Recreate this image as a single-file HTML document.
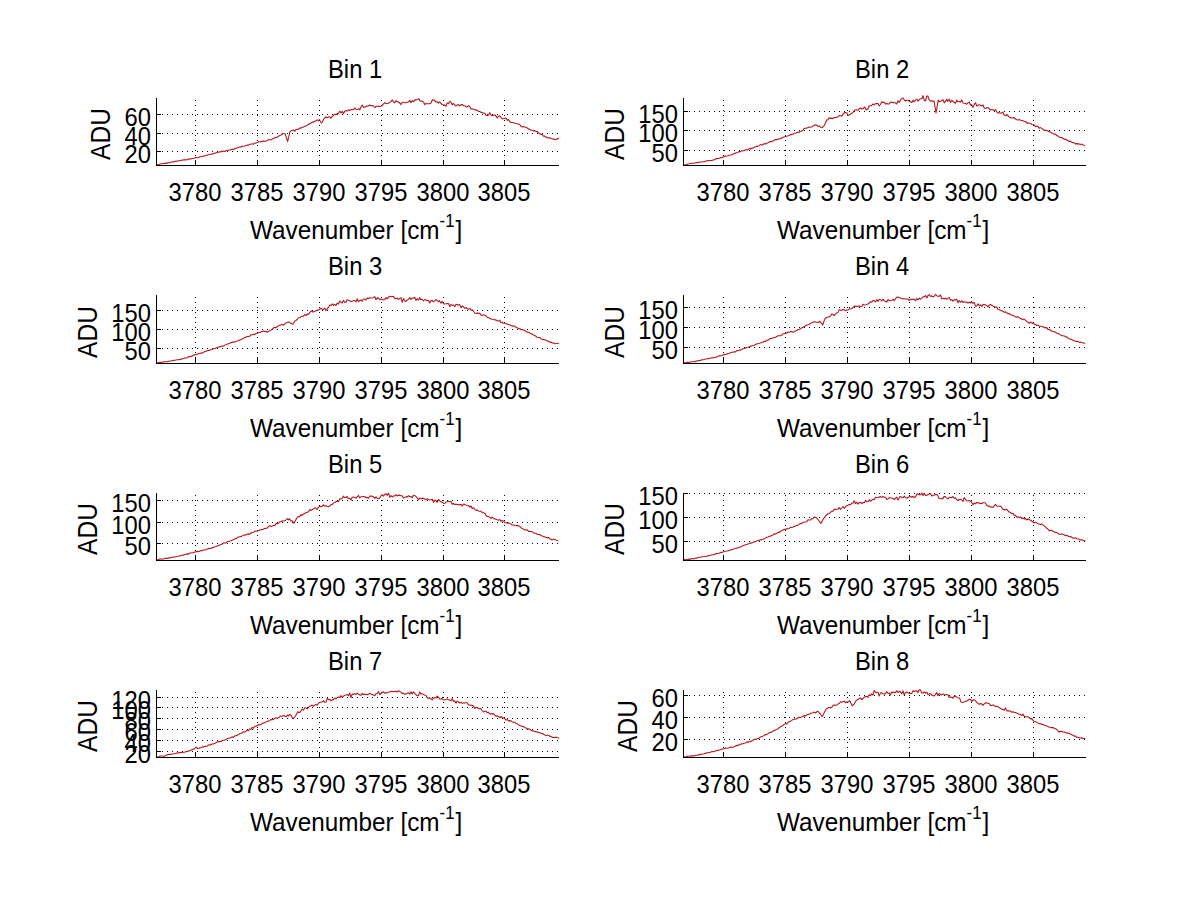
<!DOCTYPE html>
<html><head><meta charset="utf-8"><style>
html,body{margin:0;padding:0;background:#fff;width:1200px;height:901px;overflow:hidden}
svg{position:absolute;left:0;top:0}
.g{stroke:#000;stroke-width:1;stroke-dasharray:1 4}
.a{stroke:#000;stroke-width:1}
.c{fill:none;stroke:#b01822;stroke-width:1.1;stroke-linejoin:round}
.t{position:absolute;font-family:"Liberation Sans", sans-serif;font-size:25px;line-height:25px;white-space:nowrap;color:#000}
.xt{text-align:center;transform:scaleX(0.95)}
.yt{text-align:right;transform-origin:100% 0;transform:scaleX(0.95)}
.xl{font-size:26px;line-height:26px;transform-origin:0 0;transform:scaleX(0.935)}
.sup{font-size:18px;position:relative;top:-12px;margin-left:0px;margin-right:1px}
.ti{font-size:26px;line-height:26px;transform-origin:0 0;transform:scaleX(0.915)}
.yl{font-size:27px;line-height:27px;transform-origin:0 0;transform:rotate(-90deg) scaleX(0.91)}
</style></head><body>
<svg width="1200" height="901" viewBox="0 0 1200 901">
<line class="g" x1="195.5" y1="100" x2="195.5" y2="165"/>
<line class="g" x1="257.5" y1="100" x2="257.5" y2="165"/>
<line class="g" x1="319.5" y1="100" x2="319.5" y2="165"/>
<line class="g" x1="381.5" y1="100" x2="381.5" y2="165"/>
<line class="g" x1="443.5" y1="100" x2="443.5" y2="165"/>
<line class="g" x1="504.5" y1="100" x2="504.5" y2="165"/>
<line class="g" x1="157" y1="114.5" x2="558.5" y2="114.5"/>
<line class="g" x1="157" y1="133.5" x2="558.5" y2="133.5"/>
<line class="g" x1="157" y1="151.5" x2="558.5" y2="151.5"/>
<polyline class="c" points="156.0,165.0 157.2,164.7 158.5,164.9 159.8,164.2 161.0,163.7 162.2,163.8 163.5,163.5 164.8,163.4 166.0,162.9 167.2,163.1 168.5,162.7 169.8,162.8 171.0,162.2 172.7,161.7 173.5,161.9 174.8,161.6 176.0,161.0 177.2,161.2 178.5,160.7 179.8,160.8 181.0,160.3 182.2,160.3 183.5,159.8 184.8,159.9 186.0,159.9 187.2,159.7 188.5,159.1 189.8,158.7 191.0,159.0 192.2,158.5 193.5,158.3 194.3,158.3 196.0,157.6 197.2,157.7 198.5,157.5 199.8,156.9 201.0,156.4 202.2,156.3 203.5,156.3 204.8,155.7 206.0,155.7 207.2,155.1 208.5,154.8 209.8,154.5 211.0,154.2 212.2,153.9 213.5,153.7 214.3,153.3 216.0,152.9 217.2,152.4 218.5,152.2 219.8,151.9 221.0,151.4 222.2,151.6 223.5,151.1 224.8,151.5 226.0,150.6 227.2,150.2 228.5,150.3 229.8,150.0 231.0,149.7 232.2,149.4 233.5,149.5 234.8,148.5 236.0,148.4 237.2,147.8 238.5,147.5 239.8,146.8 241.0,147.1 242.2,146.1 243.5,146.3 244.8,146.0 246.0,145.6 247.7,145.0 248.5,145.1 249.8,144.3 251.0,144.3 252.2,143.8 253.5,144.2 254.8,143.1 256.0,142.9 257.7,142.5 258.5,141.8 259.8,141.8 261.0,141.6 262.2,141.4 263.5,140.9 264.8,141.3 266.0,141.1 267.2,140.5 268.5,139.8 269.8,139.7 271.0,139.9 272.7,138.7 273.5,138.6 274.8,137.6 276.0,137.7 277.2,137.0 278.5,136.2 279.8,135.5 281.0,135.0 282.2,134.0 283.5,133.7 285.2,133.7 286.0,136.3 287.7,141.5 288.5,138.0 290.0,131.7 291.0,130.8 292.2,130.8 293.5,130.0 294.8,131.2 296.0,129.6 297.7,129.2 298.5,129.3 299.8,128.0 301.0,128.1 302.2,127.4 303.5,127.0 304.8,126.3 306.0,126.0 307.2,125.5 308.5,124.1 309.3,124.2 311.0,123.0 312.2,122.1 313.5,122.1 314.8,121.2 316.0,120.7 317.2,119.9 318.5,120.7 319.3,119.7 321.3,123.0 322.2,122.4 323.5,119.5 324.3,118.3 326.0,117.0 327.2,117.7 328.5,116.9 329.8,116.8 331.0,118.2 332.2,116.6 333.5,115.4 334.8,114.2 336.0,114.7 337.2,113.6 338.5,113.2 339.8,111.2 341.0,112.9 342.2,111.3 343.5,113.8 344.8,111.1 346.0,110.8 347.2,111.0 348.5,109.8 349.8,110.5 351.0,109.8 352.2,109.6 353.5,109.8 354.8,107.8 356.0,109.5 357.2,109.7 358.5,108.6 359.8,109.8 361.0,107.0 362.2,105.1 363.5,107.5 364.5,106.9 366.0,106.6 367.2,105.9 368.5,106.0 369.8,105.0 371.0,105.8 373.0,105.5 374.8,107.5 376.0,106.3 377.2,106.2 378.5,106.0 379.8,106.5 381.5,106.0 383.5,103.9 384.8,102.5 386.0,103.6 387.2,103.5 388.5,103.3 390.0,102.1 391.0,101.7 392.2,99.9 393.5,101.8 394.8,102.7 396.0,100.7 397.2,101.6 398.5,102.0 400.2,103.5 401.0,104.6 402.2,102.2 403.5,102.2 404.8,102.7 406.0,102.6 407.2,102.3 408.7,101.8 409.8,100.3 411.0,102.7 412.2,100.7 413.5,101.6 414.8,99.9 416.0,99.9 417.2,99.5 418.9,98.7 419.8,100.8 421.0,101.2 422.2,101.0 423.5,102.1 424.8,104.7 425.7,103.5 427.2,103.8 428.5,103.7 429.8,103.8 431.0,103.1 432.2,99.9 434.2,100.1 436.0,102.0 437.2,101.7 438.5,103.2 439.8,101.9 441.0,103.5 442.2,104.5 443.5,105.1 444.4,104.9 446.0,106.4 447.2,102.9 448.5,103.7 449.8,101.3 451.2,102.7 452.2,104.8 453.5,103.5 454.8,104.9 456.0,106.2 458.0,104.4 459.8,106.0 461.0,104.6 462.2,104.5 463.5,105.8 464.8,105.7 466.5,107.2 468.5,105.8 469.8,106.4 471.0,108.9 472.2,108.8 473.5,109.3 475.0,110.0 476.0,109.9 477.2,110.1 478.5,111.4 479.8,111.5 481.0,112.4 482.2,112.5 483.5,113.1 485.2,113.7 486.0,115.5 487.2,115.7 488.5,115.1 489.8,112.7 491.0,115.0 492.2,115.8 493.5,115.2 495.4,115.1 497.2,117.9 498.5,116.3 499.8,115.8 501.0,117.4 502.2,118.8 503.9,118.8 504.8,118.3 506.0,118.1 507.2,120.3 508.5,119.5 509.8,121.8 511.0,122.5 512.2,122.5 514.1,123.0 516.0,123.5 517.2,123.7 518.5,124.0 519.8,124.5 521.0,126.4 522.2,127.0 523.5,126.4 524.8,127.1 526.0,127.3 527.2,127.9 528.5,129.1 529.8,129.4 531.0,129.9 532.2,130.3 533.5,130.9 534.8,130.6 536.2,131.6 537.2,131.4 538.5,133.0 539.8,133.8 541.0,134.6 542.2,134.3 543.5,136.2 544.8,136.0 546.4,137.5 547.2,137.6 548.5,138.0 549.8,137.7 551.0,138.7 552.2,138.8 553.5,139.1 554.9,139.5 556.0,139.5 557.2,138.9 559.0,138.4"/>
<line class="a" x1="156.5" y1="98" x2="156.5" y2="166"/>
<line class="a" x1="156" y1="165.5" x2="559" y2="165.5"/>
<line class="a" x1="195.5" y1="160" x2="195.5" y2="165"/>
<line class="a" x1="257.5" y1="160" x2="257.5" y2="165"/>
<line class="a" x1="319.5" y1="160" x2="319.5" y2="165"/>
<line class="a" x1="381.5" y1="160" x2="381.5" y2="165"/>
<line class="a" x1="443.5" y1="160" x2="443.5" y2="165"/>
<line class="a" x1="504.5" y1="160" x2="504.5" y2="165"/>
<line class="a" x1="157" y1="114.5" x2="161" y2="114.5"/>
<line class="a" x1="157" y1="133.5" x2="161" y2="133.5"/>
<line class="a" x1="157" y1="151.5" x2="161" y2="151.5"/>
<line class="g" x1="723.5" y1="100" x2="723.5" y2="165"/>
<line class="g" x1="785.5" y1="100" x2="785.5" y2="165"/>
<line class="g" x1="847.5" y1="100" x2="847.5" y2="165"/>
<line class="g" x1="909.5" y1="100" x2="909.5" y2="165"/>
<line class="g" x1="971.5" y1="100" x2="971.5" y2="165"/>
<line class="g" x1="1033.5" y1="100" x2="1033.5" y2="165"/>
<line class="g" x1="684" y1="111.5" x2="1085.5" y2="111.5"/>
<line class="g" x1="684" y1="130.5" x2="1085.5" y2="130.5"/>
<line class="g" x1="684" y1="150.5" x2="1085.5" y2="150.5"/>
<polyline class="c" points="683.0,165.0 684.2,165.0 685.5,164.7 686.8,164.6 688.0,164.0 689.2,163.8 690.5,163.5 691.8,163.3 693.0,163.3 694.2,163.2 695.5,162.7 696.8,162.5 698.0,162.7 699.2,162.1 700.5,162.0 701.8,162.0 703.0,161.7 704.2,161.8 705.5,161.2 706.8,160.8 708.0,160.6 709.2,160.7 710.5,160.5 711.8,160.5 713.0,160.0 714.2,159.9 715.5,159.0 716.8,158.6 718.0,158.5 719.2,158.2 720.5,157.6 721.8,157.7 723.0,157.0 724.2,156.6 725.5,156.1 726.8,156.0 728.0,155.7 729.2,155.2 730.5,155.0 731.8,154.8 733.0,154.2 734.2,153.6 735.5,153.1 736.8,152.8 738.0,152.3 739.2,151.6 740.5,151.8 741.8,150.9 743.0,150.8 744.2,150.6 745.5,149.8 746.8,149.9 748.0,149.7 749.2,148.8 750.5,148.4 751.8,148.6 753.0,148.0 754.2,147.2 755.5,146.8 756.8,146.3 758.0,146.4 759.2,145.6 760.5,144.6 761.8,145.1 763.0,144.2 764.2,143.7 765.5,143.9 766.8,143.2 768.0,142.7 769.2,141.9 770.5,141.6 771.8,141.7 773.0,140.8 774.2,140.3 775.5,139.4 776.8,139.7 778.0,139.1 779.2,139.0 780.5,138.4 781.8,138.1 783.0,137.3 784.7,136.7 786.8,136.2 788.0,135.8 789.2,135.4 790.5,134.5 791.8,134.6 793.0,134.0 794.2,133.2 796.3,133.0 798.0,132.0 799.2,132.4 800.5,131.2 801.8,131.0 803.0,130.2 804.2,128.4 806.3,128.3 808.0,127.5 809.2,127.0 810.5,127.2 811.8,126.7 813.0,126.2 814.2,125.1 816.3,125.0 818.0,126.3 819.2,125.9 820.5,127.2 822.2,127.5 824.2,125.6 825.5,122.6 826.8,119.9 828.0,119.7 829.2,117.6 830.5,118.5 831.8,118.1 833.0,118.7 834.2,117.5 836.3,117.5 838.0,116.7 839.2,115.5 840.5,115.7 841.8,116.1 843.0,114.1 844.7,112.5 846.8,112.8 848.0,115.5 849.7,114.7 851.8,113.2 853.0,112.4 854.7,110.0 856.8,109.9 858.0,110.3 859.2,108.7 860.5,108.0 861.8,109.1 863.0,108.5 864.7,107.0 866.3,110.0 868.0,108.7 869.2,105.8 871.3,105.8 873.0,104.0 874.2,104.9 875.5,103.6 876.8,103.5 878.0,103.6 879.2,106.0 880.5,104.5 881.8,101.6 883.0,102.5 884.2,102.2 885.5,104.1 886.8,103.4 888.0,104.1 889.2,103.8 890.5,102.2 891.8,102.0 893.2,102.7 894.2,102.6 895.5,103.1 896.8,104.0 898.0,100.8 899.2,102.4 900.5,100.0 901.7,98.7 903.0,98.0 904.2,99.8 905.5,101.0 906.8,100.3 908.0,100.2 909.2,101.5 910.2,101.8 911.8,102.5 913.0,100.2 914.2,101.8 915.5,100.0 916.8,99.3 918.0,101.2 919.2,99.7 920.4,98.7 921.8,98.8 923.0,95.7 924.2,100.2 925.5,101.0 926.8,96.0 928.0,96.1 928.9,99.3 930.5,101.1 931.8,100.7 933.0,101.4 934.0,101.0 936.0,112.9 938.3,100.1 939.2,101.8 940.5,101.3 941.8,100.5 943.0,99.8 944.2,102.9 945.5,101.1 946.8,99.2 947.6,101.5 949.2,99.2 950.5,102.5 951.8,100.2 953.0,101.6 954.2,102.2 955.5,103.2 956.8,100.0 957.8,101.8 959.2,101.5 960.5,102.1 961.8,99.9 963.0,102.9 964.2,103.3 965.5,103.6 966.8,104.2 968.0,102.9 969.2,102.1 970.5,104.9 971.4,104.4 973.0,107.4 974.2,104.5 975.5,102.8 976.8,106.1 978.0,105.3 979.2,104.8 980.5,105.3 981.6,106.0 983.0,104.9 984.2,108.0 985.5,108.6 986.8,107.8 988.0,107.5 989.2,108.9 990.5,110.1 991.8,109.5 993.0,109.7 994.2,110.7 995.5,109.6 996.8,111.9 998.0,113.0 999.2,112.7 1000.5,113.3 1002.0,112.9 1003.0,112.3 1004.2,115.3 1005.5,115.7 1006.8,114.5 1008.0,115.7 1009.2,117.2 1010.5,117.6 1012.2,118.0 1014.2,117.6 1015.5,119.1 1016.8,119.8 1018.0,120.0 1019.2,119.5 1020.5,120.3 1022.4,120.5 1024.2,121.3 1025.5,121.6 1026.8,123.2 1028.0,122.9 1029.2,123.2 1030.5,123.3 1031.8,124.4 1032.6,124.8 1034.2,124.9 1035.5,126.7 1036.8,125.9 1038.0,126.6 1039.2,128.2 1040.5,127.6 1041.8,128.4 1042.8,129.0 1044.2,130.3 1045.5,130.4 1046.8,130.4 1048.0,131.0 1049.2,131.9 1050.5,131.9 1051.8,133.1 1053.0,133.3 1054.2,134.3 1055.5,134.1 1056.8,135.8 1058.0,135.8 1059.2,137.1 1060.5,137.3 1061.8,137.6 1063.2,138.4 1064.2,139.5 1065.5,139.1 1066.8,140.0 1068.0,140.8 1069.2,141.4 1070.5,141.1 1071.8,142.5 1073.4,142.6 1074.2,142.8 1075.5,143.9 1076.8,143.6 1078.0,143.9 1079.2,143.9 1080.2,144.6 1081.8,144.1 1083.0,145.0 1084.2,145.3 1085.3,145.2"/>
<line class="a" x1="683.5" y1="98" x2="683.5" y2="166"/>
<line class="a" x1="683" y1="165.5" x2="1086" y2="165.5"/>
<line class="a" x1="723.5" y1="160" x2="723.5" y2="165"/>
<line class="a" x1="785.5" y1="160" x2="785.5" y2="165"/>
<line class="a" x1="847.5" y1="160" x2="847.5" y2="165"/>
<line class="a" x1="909.5" y1="160" x2="909.5" y2="165"/>
<line class="a" x1="971.5" y1="160" x2="971.5" y2="165"/>
<line class="a" x1="1033.5" y1="160" x2="1033.5" y2="165"/>
<line class="a" x1="684" y1="111.5" x2="688" y2="111.5"/>
<line class="a" x1="684" y1="130.5" x2="688" y2="130.5"/>
<line class="a" x1="684" y1="150.5" x2="688" y2="150.5"/>
<line class="g" x1="195.5" y1="297" x2="195.5" y2="363"/>
<line class="g" x1="257.5" y1="297" x2="257.5" y2="363"/>
<line class="g" x1="319.5" y1="297" x2="319.5" y2="363"/>
<line class="g" x1="381.5" y1="297" x2="381.5" y2="363"/>
<line class="g" x1="443.5" y1="297" x2="443.5" y2="363"/>
<line class="g" x1="504.5" y1="297" x2="504.5" y2="363"/>
<line class="g" x1="157" y1="310.5" x2="558.5" y2="310.5"/>
<line class="g" x1="157" y1="329.5" x2="558.5" y2="329.5"/>
<line class="g" x1="157" y1="348.5" x2="558.5" y2="348.5"/>
<polyline class="c" points="156.0,363.0 157.2,362.8 158.5,362.6 159.8,362.2 161.0,362.4 162.2,362.3 163.5,361.9 164.8,361.8 166.0,361.7 167.2,361.8 168.5,361.3 169.8,361.0 171.0,361.0 172.2,360.7 173.5,360.4 174.8,360.2 176.0,360.0 177.2,359.8 178.5,359.7 179.8,359.4 181.0,359.1 182.2,358.9 183.5,358.5 184.8,357.9 186.0,358.0 187.2,357.8 188.5,356.8 189.8,356.6 191.0,356.4 192.2,356.1 193.5,355.1 194.8,354.9 196.0,354.7 197.2,354.1 198.5,353.8 199.8,353.6 201.0,353.1 202.2,353.1 203.5,352.5 204.8,351.4 206.0,351.3 207.2,350.8 208.5,350.4 209.8,350.3 211.0,349.8 212.2,349.4 213.5,348.8 214.8,348.5 216.0,348.0 217.2,347.5 218.5,347.3 219.8,346.4 221.0,346.6 222.2,346.1 223.5,346.2 224.8,345.1 226.0,344.7 227.2,344.1 228.5,343.8 229.8,343.2 231.0,342.6 232.2,342.5 233.5,341.7 234.8,342.1 236.0,341.3 237.2,341.0 238.5,340.6 239.8,339.9 241.0,339.7 242.2,338.9 243.5,338.5 244.8,337.4 246.0,337.2 247.2,336.5 248.5,336.4 249.8,336.2 251.0,334.9 252.2,334.7 253.5,334.2 254.8,334.4 256.0,333.4 257.7,333.0 258.5,332.7 259.8,332.3 261.0,332.1 262.2,331.5 263.5,330.9 264.8,331.5 266.0,331.2 267.2,332.3 268.5,331.3 269.3,331.0 271.0,330.1 272.2,329.3 273.5,328.0 274.8,327.3 276.0,328.0 277.2,326.4 278.5,325.7 279.3,325.5 281.0,324.8 282.2,324.4 283.5,325.3 284.8,323.9 286.0,323.0 287.2,322.6 288.5,322.0 289.3,322.2 291.0,323.6 292.7,324.3 293.5,323.3 294.8,321.1 296.0,320.5 297.7,318.8 298.5,317.7 299.8,317.7 301.0,316.6 302.2,316.2 303.5,316.1 304.8,314.5 306.0,315.5 307.7,313.8 308.5,314.5 309.8,312.3 311.0,311.1 312.2,311.7 313.5,311.9 314.8,311.3 316.0,310.7 317.2,310.4 318.5,309.7 319.3,309.7 321.0,308.1 322.2,309.4 323.5,309.3 324.8,308.1 326.0,310.6 327.7,308.0 328.5,307.6 329.8,305.1 331.0,305.5 332.7,303.8 333.5,305.4 334.8,304.4 336.0,305.5 337.2,303.3 338.5,303.9 339.8,301.1 341.0,302.2 342.2,302.9 343.5,300.2 344.8,302.6 346.0,302.2 347.2,299.8 348.5,300.3 349.8,300.7 351.0,301.7 352.7,301.0 353.5,300.5 354.8,300.5 356.0,302.0 357.2,298.8 358.5,301.6 359.8,300.5 361.0,299.9 362.2,301.3 363.5,299.0 364.5,299.0 366.0,300.0 367.2,298.1 368.5,298.5 369.8,297.9 371.0,298.0 373.0,297.8 374.8,296.6 376.0,299.8 377.2,297.9 378.5,298.1 379.8,299.7 381.5,299.0 383.5,299.9 384.8,299.4 386.0,297.5 387.2,298.9 388.5,297.2 389.8,296.2 391.7,296.7 393.5,296.2 394.8,298.8 396.0,298.4 397.2,298.3 398.5,299.2 400.2,298.1 401.0,297.7 402.2,302.3 403.5,298.6 405.3,301.5 407.2,300.2 408.5,299.4 409.8,297.7 411.0,299.3 412.1,298.1 413.5,298.3 414.8,297.3 416.0,300.4 417.2,298.7 418.5,300.0 419.8,297.6 420.6,299.5 422.2,299.3 423.5,301.0 424.8,299.5 426.0,300.1 427.2,300.8 428.5,300.4 429.8,303.0 430.8,300.7 432.2,300.4 433.5,301.9 434.8,300.9 436.0,299.7 437.2,300.4 438.5,301.6 439.3,300.7 441.0,303.1 442.2,301.4 443.5,303.8 444.4,304.0 446.0,303.8 447.2,303.6 448.5,303.5 449.8,306.8 451.0,304.6 452.2,305.3 453.5,305.0 454.8,306.7 456.0,304.3 458.0,304.9 459.8,304.8 461.0,307.6 462.2,305.9 463.5,307.0 464.8,308.4 466.0,307.3 467.2,308.6 468.2,309.2 469.8,308.6 471.0,310.3 472.2,309.7 473.5,311.3 474.8,313.2 476.0,313.6 477.2,312.8 478.4,313.4 479.8,313.4 481.0,315.1 482.2,315.6 483.5,314.6 484.8,315.4 486.0,315.7 487.2,317.3 488.6,317.7 489.8,318.2 491.0,318.9 492.2,319.3 493.5,319.3 494.8,320.0 496.0,319.8 497.2,321.0 498.8,321.0 499.8,320.1 501.0,322.8 502.2,322.3 503.5,323.2 504.8,323.3 505.6,323.6 507.2,324.1 508.5,324.8 509.8,324.7 511.0,325.4 512.2,326.1 513.5,325.7 514.8,326.6 515.8,327.0 517.2,327.7 518.5,328.6 519.8,328.7 521.0,329.8 522.2,329.4 523.5,330.1 524.8,330.7 526.0,331.3 527.2,332.1 528.5,332.3 529.8,332.9 531.0,333.9 532.2,334.1 533.5,335.0 534.8,335.6 536.2,336.4 537.2,337.3 538.5,337.5 539.8,337.6 541.0,338.7 542.2,339.7 543.5,339.3 544.8,339.8 546.4,340.6 547.2,340.9 548.5,341.3 549.8,342.2 551.0,342.0 552.2,343.0 553.5,342.9 554.9,343.7 556.0,343.5 557.2,343.2 559.2,343.2"/>
<line class="a" x1="156.5" y1="295" x2="156.5" y2="364"/>
<line class="a" x1="156" y1="363.5" x2="559" y2="363.5"/>
<line class="a" x1="195.5" y1="358" x2="195.5" y2="363"/>
<line class="a" x1="257.5" y1="358" x2="257.5" y2="363"/>
<line class="a" x1="319.5" y1="358" x2="319.5" y2="363"/>
<line class="a" x1="381.5" y1="358" x2="381.5" y2="363"/>
<line class="a" x1="443.5" y1="358" x2="443.5" y2="363"/>
<line class="a" x1="504.5" y1="358" x2="504.5" y2="363"/>
<line class="a" x1="157" y1="310.5" x2="161" y2="310.5"/>
<line class="a" x1="157" y1="329.5" x2="161" y2="329.5"/>
<line class="a" x1="157" y1="348.5" x2="161" y2="348.5"/>
<line class="g" x1="723.5" y1="297" x2="723.5" y2="363"/>
<line class="g" x1="785.5" y1="297" x2="785.5" y2="363"/>
<line class="g" x1="847.5" y1="297" x2="847.5" y2="363"/>
<line class="g" x1="909.5" y1="297" x2="909.5" y2="363"/>
<line class="g" x1="971.5" y1="297" x2="971.5" y2="363"/>
<line class="g" x1="1033.5" y1="297" x2="1033.5" y2="363"/>
<line class="g" x1="684" y1="307.5" x2="1085.5" y2="307.5"/>
<line class="g" x1="684" y1="327.5" x2="1085.5" y2="327.5"/>
<line class="g" x1="684" y1="347.5" x2="1085.5" y2="347.5"/>
<polyline class="c" points="683.0,363.0 684.2,362.7 685.5,362.7 686.8,362.4 688.0,362.2 689.2,362.5 690.5,362.0 691.8,361.8 693.0,361.7 694.2,361.8 695.5,361.4 696.8,361.1 698.0,360.6 699.2,360.7 700.5,360.4 701.8,359.7 703.0,359.7 704.2,359.6 705.5,359.0 706.8,358.8 708.0,358.5 709.2,358.6 710.5,358.0 711.8,357.9 713.0,357.7 714.2,357.6 715.5,357.3 716.8,356.9 718.0,356.5 719.2,355.6 720.5,355.7 721.8,355.6 723.0,355.0 724.2,354.6 725.5,354.4 726.8,353.9 728.0,353.6 729.2,353.2 730.5,352.7 731.8,352.2 733.0,352.2 734.2,351.7 735.5,351.9 736.8,350.5 738.0,350.6 739.2,350.3 740.5,349.9 741.8,349.3 743.0,348.8 744.2,348.5 745.5,347.9 746.8,347.5 748.0,347.2 749.2,346.8 750.5,346.4 751.8,345.7 753.0,345.5 754.2,345.3 755.5,344.6 756.8,343.9 758.0,343.5 759.2,343.3 760.5,343.0 761.8,342.4 763.0,342.2 764.2,341.3 765.5,341.6 766.8,340.1 768.0,340.3 769.2,339.2 770.5,338.5 771.8,338.4 773.0,338.0 774.2,337.5 775.5,337.3 776.8,336.5 778.0,335.8 779.2,335.8 780.5,335.7 781.8,335.1 783.0,333.8 784.7,333.8 786.8,333.1 788.0,332.0 789.2,332.2 790.5,331.8 791.8,331.4 793.0,332.4 794.7,331.3 796.8,330.5 798.0,329.5 799.2,329.3 800.5,328.7 801.8,327.9 803.0,327.2 804.7,326.3 806.8,325.1 808.0,324.8 809.2,324.4 810.5,323.2 811.8,323.0 813.0,322.1 814.7,321.7 816.8,322.2 818.0,322.6 819.7,321.3 821.8,323.6 822.7,325.0 824.2,320.7 825.5,318.0 826.8,317.4 828.0,317.0 829.2,317.0 830.5,315.8 831.8,314.1 833.0,314.3 834.2,315.6 836.3,313.0 838.0,312.4 839.2,309.7 841.3,310.5 843.0,309.5 844.2,309.8 845.5,310.8 846.8,310.0 848.0,309.7 849.2,309.0 850.5,308.8 851.8,308.5 853.0,307.7 854.2,306.1 856.3,306.0 858.0,306.8 859.2,305.7 860.5,306.8 861.8,306.5 863.0,304.2 864.2,305.0 866.3,304.7 868.0,304.1 869.2,303.0 870.5,301.7 871.8,302.1 873.0,300.5 874.2,300.8 875.5,301.8 876.8,299.7 878.0,301.4 879.2,299.3 880.5,299.7 881.8,300.9 883.0,299.2 884.2,300.8 885.5,301.4 886.8,302.1 888.0,299.5 889.8,300.7 891.8,300.5 893.0,299.2 894.2,300.7 895.5,298.8 896.6,297.3 898.0,297.0 899.2,297.5 900.5,298.1 901.8,298.6 903.0,299.1 904.2,298.6 905.1,299.0 906.8,299.0 908.0,298.7 909.2,300.6 910.5,299.2 911.8,299.4 913.6,299.0 915.5,300.6 916.8,298.6 918.0,299.9 919.2,298.1 920.5,299.2 922.1,297.8 923.0,296.9 924.2,296.9 925.5,295.5 926.8,298.0 928.0,295.5 929.2,294.7 930.6,296.4 931.8,295.9 933.0,296.9 934.2,296.2 935.5,294.3 937.4,296.1 939.2,296.3 940.5,295.0 941.8,298.9 943.0,298.1 944.2,299.0 945.5,298.2 946.8,299.4 948.0,298.0 949.2,297.5 950.5,300.3 951.8,299.7 953.0,301.1 954.4,299.5 955.5,300.1 956.8,299.2 958.0,302.8 959.2,300.5 960.5,302.2 961.8,300.8 962.9,302.4 964.2,301.8 965.5,302.3 966.8,302.0 968.0,303.1 969.2,302.2 970.5,302.9 971.4,301.5 973.0,303.4 974.2,302.5 975.5,306.1 976.5,306.3 978.0,303.8 979.2,305.8 980.5,304.8 981.8,306.6 983.0,304.5 985.0,304.6 986.8,305.7 988.0,306.9 989.2,305.3 990.5,304.6 991.8,305.2 993.0,305.9 994.2,306.5 995.5,307.3 996.8,307.0 998.0,309.4 999.2,309.8 1000.5,310.3 1002.0,310.9 1003.0,311.2 1004.2,312.3 1005.5,311.9 1006.8,312.6 1008.0,313.8 1009.2,313.3 1010.5,314.8 1012.2,315.1 1014.2,316.1 1015.5,316.9 1016.8,317.1 1018.0,316.8 1019.2,317.6 1020.5,318.5 1022.4,319.4 1024.2,319.0 1025.5,320.4 1026.8,321.5 1028.0,322.2 1029.2,323.4 1030.5,322.0 1031.8,322.5 1032.6,323.3 1034.2,323.9 1035.5,324.4 1036.8,325.5 1038.0,325.1 1039.2,326.2 1040.5,326.2 1041.8,326.2 1042.8,326.7 1044.2,327.5 1045.5,327.9 1046.8,327.6 1048.0,329.6 1049.2,329.3 1050.5,330.3 1051.8,331.3 1053.0,331.3 1054.2,331.7 1055.5,332.3 1056.8,333.2 1058.0,333.6 1059.2,333.9 1060.5,334.9 1061.8,335.6 1063.2,335.8 1064.2,335.9 1065.5,336.9 1066.8,336.9 1068.0,338.0 1069.2,338.7 1070.5,339.1 1071.8,339.4 1073.4,340.6 1074.2,340.7 1075.5,341.3 1076.8,341.4 1078.0,341.4 1079.2,342.3 1080.5,342.1 1081.8,342.6 1083.0,342.8 1084.2,343.2 1085.3,343.2"/>
<line class="a" x1="683.5" y1="295" x2="683.5" y2="364"/>
<line class="a" x1="683" y1="363.5" x2="1086" y2="363.5"/>
<line class="a" x1="723.5" y1="358" x2="723.5" y2="363"/>
<line class="a" x1="785.5" y1="358" x2="785.5" y2="363"/>
<line class="a" x1="847.5" y1="358" x2="847.5" y2="363"/>
<line class="a" x1="909.5" y1="358" x2="909.5" y2="363"/>
<line class="a" x1="971.5" y1="358" x2="971.5" y2="363"/>
<line class="a" x1="1033.5" y1="358" x2="1033.5" y2="363"/>
<line class="a" x1="684" y1="307.5" x2="688" y2="307.5"/>
<line class="a" x1="684" y1="327.5" x2="688" y2="327.5"/>
<line class="a" x1="684" y1="347.5" x2="688" y2="347.5"/>
<line class="g" x1="195.5" y1="495" x2="195.5" y2="560"/>
<line class="g" x1="257.5" y1="495" x2="257.5" y2="560"/>
<line class="g" x1="319.5" y1="495" x2="319.5" y2="560"/>
<line class="g" x1="381.5" y1="495" x2="381.5" y2="560"/>
<line class="g" x1="443.5" y1="495" x2="443.5" y2="560"/>
<line class="g" x1="504.5" y1="495" x2="504.5" y2="560"/>
<line class="g" x1="157" y1="500.5" x2="558.5" y2="500.5"/>
<line class="g" x1="157" y1="522.5" x2="558.5" y2="522.5"/>
<line class="g" x1="157" y1="543.5" x2="558.5" y2="543.5"/>
<polyline class="c" points="156.0,560.0 157.2,559.7 158.5,559.7 159.8,558.9 161.0,559.0 162.2,559.3 163.5,558.7 164.8,558.6 166.0,558.3 167.2,558.4 168.5,558.1 169.8,557.9 171.0,557.4 172.2,557.4 173.5,556.9 174.8,557.0 176.0,556.7 177.2,556.5 178.5,556.2 179.8,555.7 181.0,555.7 182.2,555.1 183.5,555.2 184.8,554.4 186.0,554.2 187.2,553.9 188.5,554.2 189.8,553.0 191.0,553.0 192.2,552.8 193.5,552.7 194.8,551.9 196.0,552.0 197.2,551.3 198.5,551.8 199.8,551.1 201.0,550.6 202.2,550.7 203.5,549.9 204.8,550.0 206.0,549.7 207.2,549.0 208.5,548.6 209.8,548.4 211.0,548.5 212.2,547.6 213.5,547.6 214.3,547.0 216.0,546.5 217.2,546.0 218.5,545.3 219.8,545.1 221.0,544.5 222.7,543.7 223.5,542.9 224.8,543.0 226.0,543.0 227.2,541.5 228.5,541.5 229.8,541.1 231.0,540.7 232.7,540.0 233.5,539.8 234.8,538.9 236.0,538.6 237.2,537.7 238.5,537.0 239.8,536.7 241.0,536.4 242.7,535.8 243.5,535.3 244.8,534.9 246.0,535.0 247.2,534.3 248.5,533.9 249.8,534.3 251.0,532.9 252.7,532.5 253.5,532.5 254.8,531.0 256.0,531.2 257.2,531.0 258.5,530.8 259.8,529.9 261.0,529.8 262.7,529.2 263.5,529.2 264.8,528.3 266.0,528.4 267.2,528.0 268.5,526.7 269.8,525.6 271.0,526.5 272.7,525.8 273.5,525.3 274.8,525.8 276.0,523.4 277.2,523.6 278.5,523.2 279.8,521.7 281.0,521.6 282.7,520.8 283.5,521.0 284.8,520.9 286.0,519.8 287.2,518.6 288.5,519.9 289.3,518.7 291.0,521.0 292.2,520.7 294.0,523.3 296.0,519.4 297.7,516.7 298.5,516.6 299.8,516.6 301.0,514.4 302.2,515.5 303.5,513.8 304.8,513.7 306.0,512.5 307.2,512.3 308.5,511.7 309.8,509.5 311.0,510.6 312.2,509.8 313.5,508.9 314.8,507.8 316.0,508.3 317.2,509.5 318.5,507.1 319.8,506.2 321.0,506.9 322.7,505.8 323.5,504.8 324.8,506.1 326.0,505.8 327.2,506.2 328.5,506.6 329.3,506.3 331.0,504.6 332.2,504.5 333.5,503.1 334.8,502.4 336.0,501.7 337.2,501.2 338.5,501.6 339.8,498.7 341.0,499.1 342.2,498.1 343.5,496.1 344.3,497.5 346.0,497.5 347.2,496.4 348.5,498.7 349.8,498.3 351.0,500.1 352.2,497.1 353.5,497.2 354.8,497.3 356.0,498.1 357.2,497.0 358.5,495.4 359.8,497.9 361.0,496.7 362.2,496.7 363.5,496.5 364.5,496.5 366.0,497.7 367.2,497.4 368.5,498.2 369.8,496.3 371.0,495.9 373.0,496.5 374.8,498.4 376.0,496.8 377.2,498.5 378.5,498.6 379.8,497.7 381.0,496.0 382.2,494.5 383.5,496.2 384.8,494.3 385.8,493.7 387.2,495.3 388.5,493.1 389.8,497.3 391.0,495.6 392.2,497.0 393.4,496.0 394.8,495.9 396.0,494.6 397.2,496.0 398.5,495.1 400.2,495.4 401.0,495.7 402.2,495.7 403.5,498.2 404.8,497.4 406.0,496.6 407.0,497.1 408.5,495.6 409.8,496.9 411.0,496.5 412.2,497.7 413.5,495.3 415.5,496.0 417.2,497.9 418.5,499.8 419.8,498.1 421.0,498.9 422.2,498.1 424.0,498.5 426.0,499.9 427.2,498.6 428.5,499.4 429.8,500.0 431.0,499.8 432.5,499.4 433.5,502.4 434.8,500.0 436.0,500.6 437.2,502.4 438.5,499.5 439.8,500.8 441.0,501.9 442.2,502.1 443.5,503.4 444.8,503.3 446.0,502.0 447.2,501.8 448.5,501.3 449.8,501.7 451.2,501.6 452.2,504.3 453.5,503.3 454.8,504.6 456.0,504.2 458.0,504.5 459.8,504.9 461.0,504.2 462.2,505.9 463.5,504.0 464.8,504.6 466.5,505.3 468.5,505.5 469.8,507.2 471.0,505.9 472.2,508.5 473.5,507.7 475.0,509.6 476.0,510.4 477.2,509.9 478.5,511.0 479.8,511.2 481.0,511.2 482.2,512.7 483.5,512.8 485.2,513.8 486.0,515.2 486.9,516.4 488.5,516.6 489.8,517.4 491.0,518.5 492.2,517.0 493.5,518.6 495.4,518.9 497.2,519.8 498.5,520.2 499.8,519.5 501.0,521.4 502.2,520.5 503.9,521.5 504.8,522.6 506.0,522.8 507.2,523.1 508.5,522.9 509.8,523.5 511.0,523.9 512.2,525.0 513.5,525.0 514.8,525.5 515.8,525.7 517.2,525.4 518.5,525.7 519.8,526.5 521.0,527.7 522.2,528.4 523.5,529.2 524.8,529.9 526.0,530.0 527.2,529.9 528.5,531.4 529.8,531.2 531.0,531.7 532.2,531.6 533.5,532.7 534.8,533.3 536.2,533.4 537.2,534.5 538.5,534.5 539.8,534.6 541.0,535.6 542.2,536.1 543.5,536.6 544.8,536.9 546.4,537.6 547.2,537.6 548.5,537.5 549.8,538.7 551.0,539.2 552.2,539.9 553.5,539.1 554.8,539.6 556.0,540.1 557.2,540.5 558.3,540.7"/>
<line class="a" x1="156.5" y1="493" x2="156.5" y2="561"/>
<line class="a" x1="156" y1="560.5" x2="559" y2="560.5"/>
<line class="a" x1="195.5" y1="555" x2="195.5" y2="560"/>
<line class="a" x1="257.5" y1="555" x2="257.5" y2="560"/>
<line class="a" x1="319.5" y1="555" x2="319.5" y2="560"/>
<line class="a" x1="381.5" y1="555" x2="381.5" y2="560"/>
<line class="a" x1="443.5" y1="555" x2="443.5" y2="560"/>
<line class="a" x1="504.5" y1="555" x2="504.5" y2="560"/>
<line class="a" x1="157" y1="500.5" x2="161" y2="500.5"/>
<line class="a" x1="157" y1="522.5" x2="161" y2="522.5"/>
<line class="a" x1="157" y1="543.5" x2="161" y2="543.5"/>
<line class="g" x1="723.5" y1="495" x2="723.5" y2="560"/>
<line class="g" x1="785.5" y1="495" x2="785.5" y2="560"/>
<line class="g" x1="847.5" y1="495" x2="847.5" y2="560"/>
<line class="g" x1="909.5" y1="495" x2="909.5" y2="560"/>
<line class="g" x1="971.5" y1="495" x2="971.5" y2="560"/>
<line class="g" x1="1033.5" y1="495" x2="1033.5" y2="560"/>
<line class="g" x1="684" y1="493.5" x2="1085.5" y2="493.5"/>
<line class="g" x1="684" y1="517.5" x2="1085.5" y2="517.5"/>
<line class="g" x1="684" y1="541.5" x2="1085.5" y2="541.5"/>
<polyline class="c" points="683.0,560.0 684.2,559.4 685.5,560.1 686.8,559.6 688.0,559.4 689.2,559.1 690.5,559.2 691.8,558.5 693.0,558.7 694.2,558.9 695.5,558.1 696.8,558.1 698.0,557.5 699.2,557.2 700.5,557.2 701.8,556.8 703.0,556.7 704.2,556.5 705.5,556.2 706.8,556.2 708.0,555.9 709.2,555.5 710.5,555.3 711.8,554.8 713.0,554.7 714.2,554.4 715.5,554.0 716.8,553.6 718.0,553.5 719.2,553.3 720.5,552.4 721.8,552.4 723.0,552.0 724.2,551.5 725.5,551.2 726.8,551.0 728.0,550.7 729.2,550.4 730.5,549.9 731.8,549.7 733.0,549.2 734.2,548.7 735.5,548.5 736.8,548.1 738.0,547.8 739.2,547.4 740.5,547.0 741.8,546.1 743.0,545.8 744.2,545.3 745.5,544.7 746.8,544.6 748.0,544.0 749.2,543.6 750.5,543.1 751.8,542.9 753.0,542.5 754.2,541.6 755.5,541.6 756.8,541.1 758.0,540.5 759.2,540.2 760.5,539.9 761.8,539.6 763.0,539.2 764.2,538.9 765.5,538.1 766.8,537.3 768.0,537.0 769.2,536.2 770.5,536.2 771.8,535.3 773.0,535.0 774.2,533.9 775.5,533.9 776.8,533.3 778.0,532.3 779.2,532.5 780.5,531.2 781.8,530.5 783.0,530.0 784.2,529.3 785.5,529.5 786.8,528.6 788.0,528.8 789.2,528.4 790.5,527.3 791.8,527.5 793.0,527.0 794.2,526.4 795.5,525.9 796.8,525.5 798.0,525.3 799.2,524.1 800.5,523.6 801.8,523.4 803.0,522.5 804.2,522.0 805.5,522.0 806.8,521.8 808.0,519.7 809.2,520.0 810.5,520.0 811.8,518.7 813.0,518.7 814.2,517.1 816.3,517.5 818.0,519.6 819.2,521.0 821.0,523.3 823.0,519.4 824.2,517.9 826.3,515.0 828.0,513.8 829.2,513.7 830.5,512.3 831.8,511.4 833.0,511.2 834.2,509.4 836.3,509.2 838.0,509.2 839.2,507.7 840.5,509.4 841.8,508.0 843.0,506.5 844.2,508.3 846.3,505.8 848.0,505.4 849.2,504.3 850.5,504.7 851.8,503.2 853.0,503.3 854.2,500.8 855.5,503.6 856.8,502.2 858.0,504.1 859.2,502.6 860.5,502.4 861.8,503.5 863.0,502.5 864.2,502.8 865.5,500.4 866.8,501.7 868.0,501.7 869.2,499.7 870.5,501.5 871.8,499.9 873.0,499.2 874.2,499.6 875.5,497.3 876.8,497.8 878.0,497.5 879.2,497.0 880.5,496.6 881.8,497.4 883.0,496.4 884.2,497.2 885.5,497.3 886.8,499.4 888.0,499.0 889.2,497.5 890.5,498.0 891.8,498.0 893.2,498.5 894.2,499.7 895.5,498.1 896.8,497.2 898.0,500.0 900.0,496.5 901.8,497.3 903.0,497.6 904.2,496.2 905.5,497.7 906.8,498.3 908.5,497.1 910.5,496.5 911.8,497.2 913.0,496.3 914.2,497.5 915.5,496.9 917.0,493.7 918.0,494.4 919.2,494.6 920.5,494.8 921.8,493.1 923.0,495.6 924.2,493.2 925.5,495.5 927.2,495.1 929.2,494.1 930.5,493.6 931.8,496.0 933.0,495.5 934.2,495.1 935.5,494.6 937.4,494.8 939.1,498.5 940.5,498.8 941.8,498.6 943.0,498.4 944.2,496.4 945.5,496.8 946.8,498.1 948.0,499.0 949.2,497.2 951.0,497.7 953.0,496.6 954.2,498.3 955.5,497.7 956.8,499.7 958.0,500.5 959.2,499.5 961.2,499.4 963.0,501.5 964.2,497.6 965.5,499.3 966.8,500.8 968.0,501.0 969.2,500.6 970.5,501.2 971.4,501.9 973.0,504.8 974.2,503.1 975.5,503.8 976.8,502.5 978.0,502.6 979.9,503.6 981.8,503.4 983.0,502.7 985.0,502.8 986.8,505.3 988.4,506.2 989.2,505.9 990.5,507.0 991.8,507.1 993.0,507.3 994.2,505.8 995.5,504.4 996.8,506.0 998.6,506.2 1000.5,506.0 1001.8,507.7 1003.0,509.3 1004.2,509.9 1005.4,509.6 1006.8,509.3 1008.0,510.9 1009.2,512.0 1010.5,512.5 1011.8,513.6 1013.0,513.3 1014.2,515.4 1015.6,515.2 1016.8,517.3 1018.0,516.7 1019.2,517.6 1020.5,516.9 1021.8,518.7 1023.0,517.8 1024.2,518.9 1025.8,518.6 1026.8,520.0 1028.0,518.8 1029.2,519.5 1030.5,520.3 1031.8,521.3 1032.6,521.5 1034.2,523.0 1035.5,522.1 1036.8,522.9 1038.0,523.9 1039.2,524.0 1040.5,524.5 1041.8,523.9 1042.8,524.9 1044.2,525.9 1045.5,526.8 1046.8,528.3 1047.9,529.1 1049.2,530.7 1050.5,530.4 1051.8,530.4 1053.0,531.5 1054.2,531.8 1055.5,532.5 1056.8,532.5 1058.1,533.4 1059.2,534.2 1060.5,534.2 1061.8,533.9 1063.0,534.5 1064.2,534.7 1065.5,535.7 1066.8,535.3 1068.3,536.2 1069.2,536.8 1070.5,536.6 1071.8,537.3 1073.0,538.1 1074.2,538.2 1075.5,537.8 1076.8,538.7 1078.5,539.0 1080.5,540.0 1081.8,539.8 1083.0,540.3 1084.2,540.6 1085.3,541.3"/>
<line class="a" x1="683.5" y1="493" x2="683.5" y2="561"/>
<line class="a" x1="683" y1="560.5" x2="1086" y2="560.5"/>
<line class="a" x1="723.5" y1="555" x2="723.5" y2="560"/>
<line class="a" x1="785.5" y1="555" x2="785.5" y2="560"/>
<line class="a" x1="847.5" y1="555" x2="847.5" y2="560"/>
<line class="a" x1="909.5" y1="555" x2="909.5" y2="560"/>
<line class="a" x1="971.5" y1="555" x2="971.5" y2="560"/>
<line class="a" x1="1033.5" y1="555" x2="1033.5" y2="560"/>
<line class="a" x1="684" y1="493.5" x2="688" y2="493.5"/>
<line class="a" x1="684" y1="517.5" x2="688" y2="517.5"/>
<line class="a" x1="684" y1="541.5" x2="688" y2="541.5"/>
<line class="g" x1="195.5" y1="692" x2="195.5" y2="757"/>
<line class="g" x1="257.5" y1="692" x2="257.5" y2="757"/>
<line class="g" x1="319.5" y1="692" x2="319.5" y2="757"/>
<line class="g" x1="381.5" y1="692" x2="381.5" y2="757"/>
<line class="g" x1="443.5" y1="692" x2="443.5" y2="757"/>
<line class="g" x1="504.5" y1="692" x2="504.5" y2="757"/>
<line class="g" x1="157" y1="697.5" x2="558.5" y2="697.5"/>
<line class="g" x1="157" y1="707.5" x2="558.5" y2="707.5"/>
<line class="g" x1="157" y1="718.5" x2="558.5" y2="718.5"/>
<line class="g" x1="157" y1="729.5" x2="558.5" y2="729.5"/>
<line class="g" x1="157" y1="740.5" x2="558.5" y2="740.5"/>
<line class="g" x1="157" y1="751.5" x2="558.5" y2="751.5"/>
<polyline class="c" points="156.0,757.0 157.2,757.1 158.5,756.9 159.8,756.3 161.0,756.0 162.2,756.0 163.5,756.2 164.8,756.0 166.0,755.3 167.2,754.9 168.5,754.5 169.8,754.4 171.0,754.4 172.2,754.0 173.5,753.7 174.8,753.7 176.0,753.3 177.2,752.9 178.5,752.9 179.8,752.6 181.0,752.4 182.2,752.4 183.5,752.2 184.8,752.1 186.0,751.7 187.2,751.4 188.5,750.9 189.8,750.7 191.0,750.2 192.2,749.5 193.5,749.1 194.3,749.0 196.0,747.0 197.7,748.7 198.5,748.5 199.8,747.7 201.0,747.7 202.2,746.9 203.5,746.9 204.8,746.4 206.0,746.2 207.2,746.1 208.5,745.0 209.8,744.7 211.0,744.9 212.2,743.8 213.5,744.0 214.8,743.2 216.0,742.8 217.2,742.0 218.5,741.5 219.8,741.6 221.0,741.4 222.2,740.5 223.5,740.2 224.8,740.1 226.0,739.5 227.2,738.8 228.5,738.3 229.8,738.1 231.0,737.6 232.2,736.7 233.5,737.4 234.8,735.9 236.0,735.7 237.2,735.2 238.5,734.6 239.8,733.6 241.0,733.3 242.2,732.7 243.5,731.8 244.8,732.2 246.0,731.2 247.2,729.9 248.5,730.7 249.8,728.9 251.0,729.3 252.2,727.4 253.5,728.2 254.8,726.2 256.0,726.2 257.2,725.9 258.5,724.4 259.8,724.9 261.0,724.8 262.2,723.5 263.5,722.9 264.8,722.6 266.0,722.0 267.2,721.6 268.5,721.0 269.8,720.4 271.0,719.5 272.2,719.7 273.5,719.2 274.8,718.2 276.0,717.8 277.2,718.2 278.5,717.8 279.8,716.6 281.0,716.1 282.2,716.2 283.5,715.6 284.8,716.0 286.0,716.8 287.7,715.0 288.5,715.9 289.8,714.3 291.0,715.3 292.2,717.7 293.5,718.7 294.8,717.0 296.0,715.3 297.7,711.7 298.5,712.4 299.8,712.4 301.0,710.8 302.2,709.1 303.5,710.1 304.8,707.7 306.0,707.8 307.2,708.8 308.5,707.4 309.8,706.1 311.0,705.8 312.2,705.1 313.5,706.3 314.8,705.1 316.0,704.5 317.2,705.2 318.5,703.3 319.8,702.3 321.0,702.1 322.7,701.7 323.5,700.7 324.8,702.3 326.0,702.2 327.2,698.4 328.5,699.7 329.8,699.4 331.0,700.8 332.7,699.5 333.5,699.6 334.8,697.9 336.0,698.9 337.2,697.5 338.5,696.9 339.8,697.6 341.0,695.6 342.2,697.3 343.5,696.1 344.8,695.3 346.0,695.0 347.2,694.5 348.5,695.7 349.8,693.1 351.0,697.6 352.2,694.1 353.5,694.1 354.8,693.8 356.0,694.5 357.2,693.2 358.5,694.3 359.8,694.9 361.0,695.2 362.2,693.4 363.5,694.7 364.5,694.1 366.0,694.5 367.2,694.6 368.5,694.4 369.8,693.2 371.0,694.2 373.0,694.7 374.8,695.7 376.0,693.7 377.2,693.7 378.5,691.5 379.8,694.6 381.5,693.0 383.5,691.8 384.8,693.1 386.0,692.9 387.2,692.9 388.5,692.1 389.8,691.8 391.7,691.3 393.5,691.8 394.8,691.4 396.0,691.2 397.2,692.1 398.5,690.7 400.2,691.8 401.0,692.1 402.2,693.6 403.5,693.3 404.8,694.2 406.0,693.9 407.0,693.5 408.5,692.8 409.8,694.2 411.0,691.7 412.2,694.0 413.5,691.9 415.5,694.1 417.2,695.8 418.5,695.7 419.8,691.9 421.0,694.1 422.2,693.6 424.0,694.7 426.0,695.4 427.4,698.0 428.5,698.1 429.8,697.9 431.0,698.7 432.2,699.8 434.2,697.5 436.0,698.1 437.2,696.0 438.5,697.3 439.8,699.3 441.0,698.9 442.2,698.6 443.5,700.0 444.8,700.0 446.0,699.6 447.2,699.1 448.5,699.8 449.8,700.2 451.2,700.6 452.2,698.6 453.5,701.4 454.8,700.9 456.0,703.3 457.2,701.1 458.5,702.0 459.8,703.0 461.4,702.3 462.2,703.3 463.5,703.0 464.8,702.9 466.0,702.8 467.2,702.8 468.5,704.9 469.8,705.0 471.6,705.4 473.5,705.9 474.8,708.5 476.0,707.3 477.2,707.8 478.5,708.5 479.8,708.6 481.0,708.9 481.8,710.0 483.5,712.0 484.8,711.3 486.0,711.0 487.2,712.8 488.5,712.3 489.8,713.9 491.0,713.7 492.0,713.9 493.5,713.6 494.8,715.2 496.0,716.4 497.2,715.8 498.5,716.4 499.8,717.8 501.0,716.3 502.2,717.6 503.5,717.9 504.8,718.8 506.0,720.1 507.2,719.6 508.5,721.0 509.8,720.6 511.0,720.9 512.4,721.9 513.5,722.6 514.8,722.0 516.0,723.5 517.2,723.7 518.5,724.6 519.8,725.6 521.0,726.0 522.6,726.4 523.5,726.6 524.8,727.5 526.0,728.0 527.2,729.0 528.5,728.9 529.8,729.2 531.0,730.2 532.8,730.9 534.8,731.5 536.0,731.9 537.2,731.9 538.5,732.5 539.8,732.6 541.0,733.4 543.0,733.8 544.8,735.1 546.0,735.5 547.2,735.2 548.5,735.2 549.8,736.2 551.0,736.4 552.2,737.4 553.2,737.2 554.8,737.7 556.0,737.1 557.2,737.6 559.2,738.3"/>
<line class="a" x1="156.5" y1="690" x2="156.5" y2="758"/>
<line class="a" x1="156" y1="757.5" x2="559" y2="757.5"/>
<line class="a" x1="195.5" y1="752" x2="195.5" y2="757"/>
<line class="a" x1="257.5" y1="752" x2="257.5" y2="757"/>
<line class="a" x1="319.5" y1="752" x2="319.5" y2="757"/>
<line class="a" x1="381.5" y1="752" x2="381.5" y2="757"/>
<line class="a" x1="443.5" y1="752" x2="443.5" y2="757"/>
<line class="a" x1="504.5" y1="752" x2="504.5" y2="757"/>
<line class="a" x1="157" y1="697.5" x2="161" y2="697.5"/>
<line class="a" x1="157" y1="707.5" x2="161" y2="707.5"/>
<line class="a" x1="157" y1="718.5" x2="161" y2="718.5"/>
<line class="a" x1="157" y1="729.5" x2="161" y2="729.5"/>
<line class="a" x1="157" y1="740.5" x2="161" y2="740.5"/>
<line class="a" x1="157" y1="751.5" x2="161" y2="751.5"/>
<line class="g" x1="723.5" y1="692" x2="723.5" y2="757"/>
<line class="g" x1="785.5" y1="692" x2="785.5" y2="757"/>
<line class="g" x1="847.5" y1="692" x2="847.5" y2="757"/>
<line class="g" x1="909.5" y1="692" x2="909.5" y2="757"/>
<line class="g" x1="971.5" y1="692" x2="971.5" y2="757"/>
<line class="g" x1="1033.5" y1="692" x2="1033.5" y2="757"/>
<line class="g" x1="684" y1="695.5" x2="1085.5" y2="695.5"/>
<line class="g" x1="684" y1="717.5" x2="1085.5" y2="717.5"/>
<line class="g" x1="684" y1="739.5" x2="1085.5" y2="739.5"/>
<polyline class="c" points="683.0,757.0 684.2,757.1 685.5,756.8 686.8,756.4 688.0,756.3 689.2,756.3 690.5,756.1 691.8,755.9 693.0,755.7 694.2,755.9 695.5,755.3 696.8,755.2 698.0,755.3 699.2,754.4 700.5,754.6 701.8,754.3 703.0,754.0 704.2,753.7 705.5,753.2 706.8,752.9 708.0,752.8 709.2,752.5 710.5,752.2 711.8,751.6 713.0,751.7 714.2,751.4 715.5,750.9 716.8,750.2 718.0,750.5 719.2,750.0 720.5,749.7 721.8,749.1 723.0,749.0 724.2,748.7 725.5,748.0 726.8,748.3 728.0,748.1 729.2,747.7 730.5,747.1 731.8,747.6 733.0,747.0 734.2,746.8 735.5,746.0 736.8,745.6 738.0,745.4 739.2,744.8 740.5,744.3 741.8,743.9 743.0,743.7 744.2,743.3 745.5,743.0 746.8,741.9 748.0,742.1 749.2,741.9 750.5,741.4 751.8,741.1 753.0,740.3 754.2,739.4 755.5,739.4 756.8,738.9 758.0,738.8 759.2,738.0 760.5,737.1 761.8,736.6 763.0,736.2 764.2,735.2 765.5,734.5 766.8,734.7 768.0,733.7 769.2,732.7 770.5,732.4 771.8,732.2 773.0,731.2 774.2,730.6 775.5,730.0 776.8,729.4 778.0,728.8 779.2,727.4 780.5,726.7 781.8,726.1 783.0,725.3 784.2,724.4 785.5,723.6 786.8,723.9 788.0,722.6 789.2,721.5 790.5,721.3 791.8,720.4 793.0,719.5 794.2,719.1 795.5,719.3 796.8,718.8 798.0,717.6 799.2,717.4 800.5,717.5 801.8,716.8 803.0,716.2 804.2,715.6 805.5,716.0 806.8,714.9 808.0,714.4 809.2,714.3 810.5,713.3 811.8,713.0 813.0,712.8 814.2,712.1 815.5,713.0 816.8,711.7 818.0,711.2 819.2,713.0 820.5,714.2 822.2,716.7 824.2,712.8 826.3,708.7 828.0,708.0 829.2,707.2 830.5,708.0 831.8,707.2 833.0,705.6 834.2,705.1 836.3,705.3 838.0,703.9 839.2,703.5 840.5,701.8 841.8,702.3 843.0,701.7 844.2,701.1 845.5,702.7 846.8,701.8 848.0,702.2 849.7,700.7 852.2,705.7 854.2,704.1 856.3,700.3 858.0,699.6 859.2,698.8 860.5,697.9 861.8,699.8 863.0,698.3 864.2,697.3 866.3,696.2 868.0,697.3 869.2,694.8 870.5,695.4 871.8,693.9 873.0,695.2 874.2,690.5 876.3,692.8 878.0,692.2 879.2,696.0 880.5,693.1 881.8,692.6 883.0,693.9 884.2,694.0 885.5,693.6 886.8,691.5 888.0,693.2 889.2,693.1 890.5,695.0 891.5,692.1 893.0,692.7 894.2,691.9 895.5,692.7 896.8,690.7 898.0,692.4 900.0,691.3 901.8,693.8 903.0,690.8 904.2,694.9 905.5,692.5 906.8,692.0 908.5,693.0 910.5,693.6 911.8,693.2 913.0,690.8 914.2,691.5 915.5,690.9 917.0,690.7 918.0,692.6 919.2,689.7 920.5,690.1 921.8,692.9 923.0,693.0 924.2,691.8 925.5,693.0 926.8,692.2 928.0,694.8 929.2,693.8 930.5,693.6 932.3,695.5 934.2,696.0 935.5,694.4 936.8,692.6 938.0,695.8 939.1,693.5 940.5,694.7 941.8,694.9 943.0,694.0 944.2,694.5 945.9,694.7 946.8,694.5 948.0,694.9 949.2,697.5 951.0,696.9 953.0,698.2 954.2,696.4 955.5,696.1 956.8,697.5 958.0,697.8 959.5,698.0 961.2,702.3 963.0,702.5 964.2,701.9 965.5,701.1 966.8,701.1 968.0,700.3 969.2,699.2 970.5,699.4 971.8,701.4 973.1,699.8 974.2,699.9 975.5,700.9 976.8,702.3 978.2,703.7 979.2,704.4 980.5,703.4 981.8,704.1 983.0,705.4 984.2,703.8 985.5,702.6 986.8,703.3 988.4,703.2 989.2,703.5 990.5,705.4 991.8,705.5 993.0,704.9 994.2,705.6 995.5,706.6 996.8,706.3 998.6,707.1 1000.5,708.6 1001.8,709.1 1003.0,709.4 1004.2,710.3 1005.5,707.9 1006.8,710.9 1008.8,710.8 1010.5,711.1 1011.8,712.4 1013.0,711.6 1014.2,712.5 1015.5,712.5 1016.8,713.2 1018.0,713.5 1019.0,714.2 1020.5,714.5 1021.8,715.6 1023.0,714.0 1024.2,716.2 1025.5,717.0 1026.8,716.7 1028.0,716.7 1029.2,717.6 1030.5,718.9 1031.8,718.6 1033.0,720.4 1034.2,721.5 1036.0,721.9 1038.0,723.1 1039.2,723.8 1040.5,723.6 1041.8,724.5 1043.0,724.2 1044.2,725.3 1046.2,725.8 1048.0,726.5 1049.2,727.1 1050.5,727.6 1051.8,727.6 1053.0,727.5 1054.2,728.3 1055.5,728.6 1056.8,729.5 1058.1,730.9 1059.2,732.0 1060.5,731.2 1061.8,731.6 1063.0,732.0 1064.9,732.1 1066.8,733.3 1068.0,732.8 1069.2,733.6 1070.5,734.1 1071.8,734.7 1073.4,735.5 1074.2,736.1 1075.5,736.0 1076.8,737.3 1078.0,737.4 1079.2,737.7 1080.2,738.0 1081.8,737.8 1083.0,738.5 1084.2,738.5 1085.3,738.3"/>
<line class="a" x1="683.5" y1="690" x2="683.5" y2="758"/>
<line class="a" x1="683" y1="757.5" x2="1086" y2="757.5"/>
<line class="a" x1="723.5" y1="752" x2="723.5" y2="757"/>
<line class="a" x1="785.5" y1="752" x2="785.5" y2="757"/>
<line class="a" x1="847.5" y1="752" x2="847.5" y2="757"/>
<line class="a" x1="909.5" y1="752" x2="909.5" y2="757"/>
<line class="a" x1="971.5" y1="752" x2="971.5" y2="757"/>
<line class="a" x1="1033.5" y1="752" x2="1033.5" y2="757"/>
<line class="a" x1="684" y1="695.5" x2="688" y2="695.5"/>
<line class="a" x1="684" y1="717.5" x2="688" y2="717.5"/>
<line class="a" x1="684" y1="739.5" x2="688" y2="739.5"/>
</svg>
<div class="t xt" style="left:134.5px;top:180px;width:120px">3780</div>
<div class="t xt" style="left:196.5px;top:180px;width:120px">3785</div>
<div class="t xt" style="left:258.5px;top:180px;width:120px">3790</div>
<div class="t xt" style="left:320.5px;top:180px;width:120px">3795</div>
<div class="t xt" style="left:382.5px;top:180px;width:120px">3800</div>
<div class="t xt" style="left:443.5px;top:180px;width:120px">3805</div>
<div class="t yt" style="left:-49px;top:105px;width:200px">60</div>
<div class="t yt" style="left:-49px;top:124px;width:200px">40</div>
<div class="t yt" style="left:-49px;top:142px;width:200px">20</div>
<div class="t xl" style="left:250px;top:217px">Wavenumber [cm<span class="sup">-1</span>]</div>
<div class="t ti" style="left:328px;top:56px">Bin 1</div>
<div class="t yl" style="left:88px;top:160.0px">ADU</div>
<div class="t xt" style="left:662.5px;top:180px;width:120px">3780</div>
<div class="t xt" style="left:724.5px;top:180px;width:120px">3785</div>
<div class="t xt" style="left:786.5px;top:180px;width:120px">3790</div>
<div class="t xt" style="left:848.5px;top:180px;width:120px">3795</div>
<div class="t xt" style="left:910.5px;top:180px;width:120px">3800</div>
<div class="t xt" style="left:972.5px;top:180px;width:120px">3805</div>
<div class="t yt" style="left:478px;top:102px;width:200px">150</div>
<div class="t yt" style="left:478px;top:121px;width:200px">100</div>
<div class="t yt" style="left:478px;top:141px;width:200px">50</div>
<div class="t xl" style="left:777px;top:217px">Wavenumber [cm<span class="sup">-1</span>]</div>
<div class="t ti" style="left:855px;top:56px">Bin 2</div>
<div class="t yl" style="left:602px;top:160.0px">ADU</div>
<div class="t xt" style="left:134.5px;top:378px;width:120px">3780</div>
<div class="t xt" style="left:196.5px;top:378px;width:120px">3785</div>
<div class="t xt" style="left:258.5px;top:378px;width:120px">3790</div>
<div class="t xt" style="left:320.5px;top:378px;width:120px">3795</div>
<div class="t xt" style="left:382.5px;top:378px;width:120px">3800</div>
<div class="t xt" style="left:443.5px;top:378px;width:120px">3805</div>
<div class="t yt" style="left:-49px;top:301px;width:200px">150</div>
<div class="t yt" style="left:-49px;top:320px;width:200px">100</div>
<div class="t yt" style="left:-49px;top:339px;width:200px">50</div>
<div class="t xl" style="left:250px;top:415px">Wavenumber [cm<span class="sup">-1</span>]</div>
<div class="t ti" style="left:328px;top:253px">Bin 3</div>
<div class="t yl" style="left:75px;top:357.5px">ADU</div>
<div class="t xt" style="left:662.5px;top:378px;width:120px">3780</div>
<div class="t xt" style="left:724.5px;top:378px;width:120px">3785</div>
<div class="t xt" style="left:786.5px;top:378px;width:120px">3790</div>
<div class="t xt" style="left:848.5px;top:378px;width:120px">3795</div>
<div class="t xt" style="left:910.5px;top:378px;width:120px">3800</div>
<div class="t xt" style="left:972.5px;top:378px;width:120px">3805</div>
<div class="t yt" style="left:478px;top:298px;width:200px">150</div>
<div class="t yt" style="left:478px;top:318px;width:200px">100</div>
<div class="t yt" style="left:478px;top:338px;width:200px">50</div>
<div class="t xl" style="left:777px;top:415px">Wavenumber [cm<span class="sup">-1</span>]</div>
<div class="t ti" style="left:855px;top:253px">Bin 4</div>
<div class="t yl" style="left:602px;top:357.5px">ADU</div>
<div class="t xt" style="left:134.5px;top:575px;width:120px">3780</div>
<div class="t xt" style="left:196.5px;top:575px;width:120px">3785</div>
<div class="t xt" style="left:258.5px;top:575px;width:120px">3790</div>
<div class="t xt" style="left:320.5px;top:575px;width:120px">3795</div>
<div class="t xt" style="left:382.5px;top:575px;width:120px">3800</div>
<div class="t xt" style="left:443.5px;top:575px;width:120px">3805</div>
<div class="t yt" style="left:-49px;top:491px;width:200px">150</div>
<div class="t yt" style="left:-49px;top:513px;width:200px">100</div>
<div class="t yt" style="left:-49px;top:534px;width:200px">50</div>
<div class="t xl" style="left:250px;top:612px">Wavenumber [cm<span class="sup">-1</span>]</div>
<div class="t ti" style="left:328px;top:451px">Bin 5</div>
<div class="t yl" style="left:75px;top:555.0px">ADU</div>
<div class="t xt" style="left:662.5px;top:575px;width:120px">3780</div>
<div class="t xt" style="left:724.5px;top:575px;width:120px">3785</div>
<div class="t xt" style="left:786.5px;top:575px;width:120px">3790</div>
<div class="t xt" style="left:848.5px;top:575px;width:120px">3795</div>
<div class="t xt" style="left:910.5px;top:575px;width:120px">3800</div>
<div class="t xt" style="left:972.5px;top:575px;width:120px">3805</div>
<div class="t yt" style="left:478px;top:484px;width:200px">150</div>
<div class="t yt" style="left:478px;top:508px;width:200px">100</div>
<div class="t yt" style="left:478px;top:532px;width:200px">50</div>
<div class="t xl" style="left:777px;top:612px">Wavenumber [cm<span class="sup">-1</span>]</div>
<div class="t ti" style="left:855px;top:451px">Bin 6</div>
<div class="t yl" style="left:602px;top:555.0px">ADU</div>
<div class="t xt" style="left:134.5px;top:772px;width:120px">3780</div>
<div class="t xt" style="left:196.5px;top:772px;width:120px">3785</div>
<div class="t xt" style="left:258.5px;top:772px;width:120px">3790</div>
<div class="t xt" style="left:320.5px;top:772px;width:120px">3795</div>
<div class="t xt" style="left:382.5px;top:772px;width:120px">3800</div>
<div class="t xt" style="left:443.5px;top:772px;width:120px">3805</div>
<div class="t yt" style="left:-49px;top:688px;width:200px">120</div>
<div class="t yt" style="left:-49px;top:698px;width:200px">100</div>
<div class="t yt" style="left:-49px;top:709px;width:200px">80</div>
<div class="t yt" style="left:-49px;top:720px;width:200px">60</div>
<div class="t yt" style="left:-49px;top:731px;width:200px">40</div>
<div class="t yt" style="left:-49px;top:742px;width:200px">20</div>
<div class="t xl" style="left:250px;top:809px">Wavenumber [cm<span class="sup">-1</span>]</div>
<div class="t ti" style="left:328px;top:648px">Bin 7</div>
<div class="t yl" style="left:75px;top:752.0px">ADU</div>
<div class="t xt" style="left:662.5px;top:772px;width:120px">3780</div>
<div class="t xt" style="left:724.5px;top:772px;width:120px">3785</div>
<div class="t xt" style="left:786.5px;top:772px;width:120px">3790</div>
<div class="t xt" style="left:848.5px;top:772px;width:120px">3795</div>
<div class="t xt" style="left:910.5px;top:772px;width:120px">3800</div>
<div class="t xt" style="left:972.5px;top:772px;width:120px">3805</div>
<div class="t yt" style="left:478px;top:686px;width:200px">60</div>
<div class="t yt" style="left:478px;top:708px;width:200px">40</div>
<div class="t yt" style="left:478px;top:730px;width:200px">20</div>
<div class="t xl" style="left:777px;top:809px">Wavenumber [cm<span class="sup">-1</span>]</div>
<div class="t ti" style="left:855px;top:648px">Bin 8</div>
<div class="t yl" style="left:615px;top:752.0px">ADU</div>
</body></html>
